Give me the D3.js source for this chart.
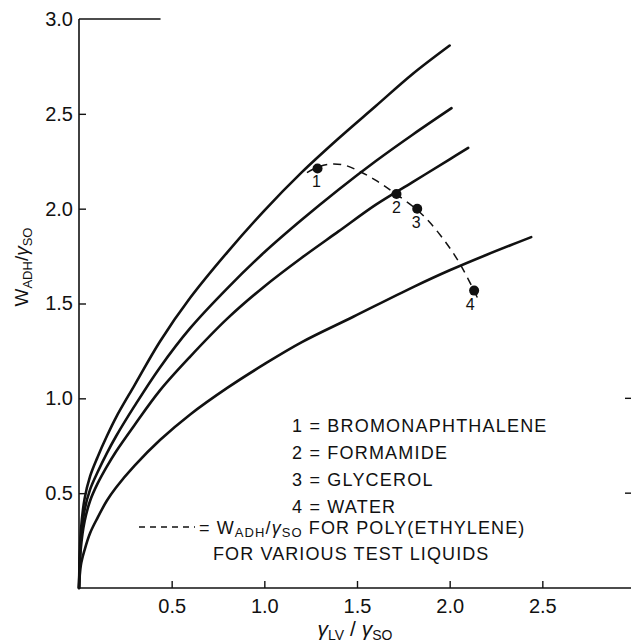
<!DOCTYPE html>
<html>
<head>
<meta charset="utf-8">
<script src="https://cdn.jsdelivr.net/npm/d3@7"></script>
<style>
  html, body { margin: 0; padding: 0; background: #fff; }
  svg { display: block; }
  text { font-family: "Liberation Sans", Arial, sans-serif; fill: #111; }
</style>
</head>
<body>
<svg id="chart" width="631" height="644"></svg>
<script>
// ---------------- data ----------------
const curveBromonaphthalene = [[0,0],[0.01,0.30],[0.03,0.47],[0.06,0.59],[0.1,0.69],[0.15,0.80],[0.2,0.90],[0.3,1.07],[0.437,1.30],[0.6,1.53],[0.8,1.77],[1.0,1.99],[1.2,2.19],[1.4,2.37],[1.6,2.54],[1.8,2.71],[2.0,2.86]];
const curveFormamide = [[0,0],[0.01,0.25],[0.03,0.41],[0.06,0.52],[0.1,0.61],[0.15,0.71],[0.2,0.80],[0.3,0.96],[0.437,1.163],[0.6,1.37],[0.8,1.58],[1.0,1.77],[1.2,1.94],[1.4,2.10],[1.6,2.25],[1.8,2.39],[2.01,2.53]];
const curveGlycerol = [[0,0],[0.01,0.21],[0.03,0.35],[0.06,0.46],[0.1,0.55],[0.15,0.64],[0.2,0.72],[0.3,0.86],[0.437,1.042],[0.6,1.22],[0.8,1.42],[1.0,1.59],[1.2,1.74],[1.4,1.88],[1.6,2.02],[1.8,2.14],[2.0,2.26],[2.1,2.32]];
const curveWater = [[0,0],[0.01,0.12],[0.03,0.20],[0.06,0.29],[0.1,0.37],[0.15,0.46],[0.2,0.53],[0.3,0.645],[0.437,0.78],[0.6,0.915],[0.8,1.055],[1.0,1.18],[1.2,1.295],[1.48,1.43],[1.8,1.585],[2.0,1.675],[2.2,1.757],[2.44,1.85]];
const curves = [curveBromonaphthalene, curveFormamide, curveGlycerol, curveWater];

const polyEthyleneDashed = [[1.23,2.19],[1.29,2.22],[1.354,2.235],[1.43,2.23],[1.507,2.20],[1.6,2.15],[1.697,2.086],[1.84,1.98],[1.95,1.86],[2.055,1.71],[2.16,1.51]];
const pointX = [1.287, 1.713, 1.825, 2.132];
const pointY = [2.212, 2.077, 2.000, 1.568];
const pointLabels = ["1", "2", "3", "4"];

const legendItems = ["1 = BROMONAPHTHALENE", "2 = FORMAMIDE", "3 = GLYCEROL", "4 = WATER"];
const xTicks = [0.5, 1.0, 1.5, 2.0, 2.5];
const yTicks = [0.5, 1.0, 1.5, 2.0, 2.5, 3.0];
const xTickLabels = ["0.5", "1.0", "1.5", "2.0", "2.5"];
const yTickLabels = ["0.5", "1.0", "1.5", "2.0", "2.5", "3.0"];
const rightTicks = [0.5, 1.0];

// ---------------- drawing ----------------
const svg = d3.select("#chart");
const x = d3.scaleLinear().domain([0, 3]).range([79, 635]);
const y = d3.scaleLinear().domain([0, 3]).range([588, 19]);

// axes
const xAxis = d3.axisBottom(x).tickValues(xTicks).tickSize(-7).tickPadding(11)
  .tickFormat((d, i) => xTickLabels[i]);
const gx = svg.append("g").attr("transform", `translate(0,${y(0)})`).call(xAxis);
gx.select(".domain").remove();
gx.append("line").attr("x1", x(0)).attr("x2", 631).attr("y1", 0).attr("y2", 0)
  .attr("stroke", "#111").attr("stroke-width", 1.6);

const yAxis = d3.axisLeft(y).tickValues(yTicks).tickSize(-7).tickPadding(6)
  .tickFormat((d, i) => yTickLabels[i]);
const gy = svg.append("g").attr("transform", `translate(${x(0)},0)`).call(yAxis);
gy.select(".domain").remove();
gy.append("line").attr("x1", 0).attr("x2", 0).attr("y1", y(0)).attr("y2", y(3))
  .attr("stroke", "#111").attr("stroke-width", 1.6);
gy.selectAll(".tick").filter(d => d === 3).select("line").remove();

[gx, gy].forEach(g => {
  g.selectAll(".tick line").attr("stroke", "#111").attr("stroke-width", 1.4);
  g.selectAll(".tick text").attr("font-size", 20).attr("fill", "#111")
    .style("font-family", "'Liberation Sans', Arial, sans-serif");
});

// top partial frame line
svg.append("line").attr("x1", x(0)).attr("x2", x(0.44)).attr("y1", y(3)).attr("y2", y(3))
  .attr("stroke", "#111").attr("stroke-width", 1.6);

// right-edge tick stubs
svg.selectAll(".rtick").data(rightTicks).enter().append("line")
  .attr("x1", x(3) - 10).attr("x2", x(3)).attr("y1", d => y(d)).attr("y2", d => y(d))
  .attr("stroke", "#111").attr("stroke-width", 1.4);

// curves
const line = d3.line().x(d => x(d[0])).y(d => y(d[1])).curve(d3.curveCatmullRom.alpha(0.5));
svg.selectAll(".curve").data(curves).enter().append("path")
  .attr("d", line).attr("fill", "none").attr("stroke", "#111")
  .attr("stroke-width", 2.6).attr("stroke-linecap", "round").attr("stroke-linejoin", "round");

// dashed poly(ethylene) curve
const dline = d3.line().x(d => x(d[0])).y(d => y(d[1])).curve(d3.curveCatmullRom);
svg.append("path").attr("d", dline(polyEthyleneDashed)).attr("fill", "none")
  .attr("stroke", "#111").attr("stroke-width", 1.5).attr("stroke-dasharray", "8,6");

// points
svg.selectAll(".pt").data(pointX).enter().append("circle")
  .attr("cx", d => x(d)).attr("cy", (d, i) => y(pointY[i])).attr("r", 5).attr("fill", "#111");
svg.selectAll(".ptl").data(pointX).enter().append("text")
  .attr("x", (d, i) => x(d) + [-1, 0, -1, -4][i])
  .attr("y", (d, i) => y(pointY[i]) + 19)
  .attr("text-anchor", "middle").attr("font-size", 16)
  .text((d, i) => pointLabels[i]);

// legend
svg.selectAll(".leg").data(legendItems).enter().append("text")
  .attr("x", 292).attr("y", (d, i) => 432 + i * 27)
  .attr("font-size", 18).attr("letter-spacing", 1.2)
  .text(d => d);

// dashed legend
svg.append("line").attr("x1", 139).attr("x2", 195).attr("y1", 527).attr("y2", 527)
  .attr("stroke", "#111").attr("stroke-width", 1.5).attr("stroke-dasharray", "6,5");
const dl = svg.append("text").attr("x", 199).attr("y", 534).attr("font-size", 18).attr("letter-spacing", 1.1);
dl.append("tspan").text("= W");
dl.append("tspan").attr("font-size", 13).attr("dy", 3).text("ADH");
dl.append("tspan").attr("dy", -3).text("/");
dl.append("tspan").attr("font-style", "italic").text("γ");
dl.append("tspan").attr("font-size", 13).attr("dy", 3).text("SO");
dl.append("tspan").attr("dy", -3).text(" FOR POLY(ETHYLENE)");
svg.append("text").attr("x", 213).attr("y", 560).attr("font-size", 18).attr("letter-spacing", 1.1)
  .text("FOR VARIOUS TEST LIQUIDS");

// axis titles
const xt = svg.append("text").attr("x", 355).attr("y", 636).attr("text-anchor", "middle").attr("font-size", 21);
xt.append("tspan").attr("font-style", "italic").text("γ");
xt.append("tspan").attr("font-size", 14).attr("dy", 4).text("LV");
xt.append("tspan").attr("dy", -4).text(" / ");
xt.append("tspan").attr("font-style", "italic").text("γ");
xt.append("tspan").attr("font-size", 14).attr("dy", 4).text("SO");

const yt = svg.append("text").attr("transform", "translate(28,267) rotate(-90)")
  .attr("text-anchor", "middle").attr("font-size", 19);
yt.append("tspan").text("W");
yt.append("tspan").attr("font-size", 13).attr("dy", 4).text("ADH");
yt.append("tspan").attr("dy", -4).text("/");
yt.append("tspan").attr("font-style", "italic").text("γ");
yt.append("tspan").attr("font-size", 13).attr("dy", 4).text("SO");
</script>
</body>
</html>
